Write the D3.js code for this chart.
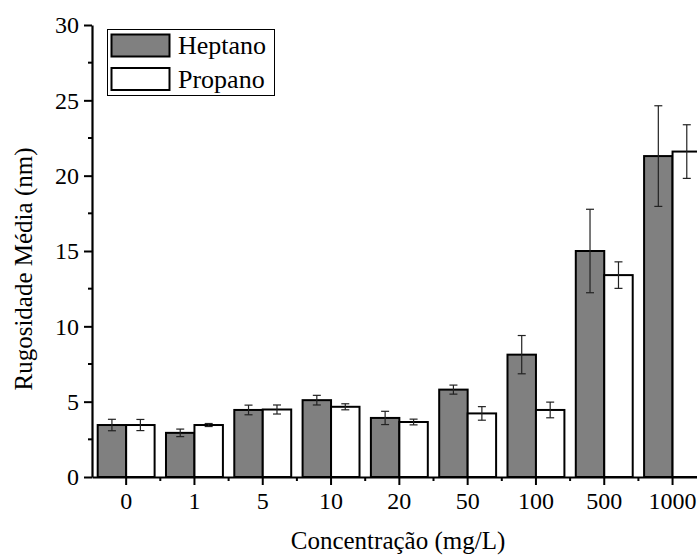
<!DOCTYPE html>
<html>
<head>
<meta charset="utf-8">
<script src="https://cdn.jsdelivr.net/npm/d3@7"></script>
<style>
  html, body { margin: 0; padding: 0; background: #fff; overflow: hidden; }
  svg { display: block; font-family: "Liberation Serif", "Times New Roman", serif; }
</style>
</head>
<body>
<svg id="chart" width="697" height="556"></svg>
<script>
// data
const categories = ["0", "1", "5", "10", "20", "50", "100", "500", "1000"];
const heptano = [3.45, 2.93, 4.45, 5.1, 3.92, 5.8, 8.12, 15.0, 21.3];
const heptanoErr = [0.38, 0.25, 0.32, 0.32, 0.44, 0.3, 1.27, 2.77, 3.34];
const propano = [3.45, 3.45, 4.48, 4.66, 3.65, 4.22, 4.45, 13.4, 21.6];
const propanoErr = [0.37, 0.1, 0.3, 0.2, 0.19, 0.45, 0.52, 0.88, 1.78];
const seriesNames = ["Heptano", "Propano"];
const yMajorTicks = [0, 5, 10, 15, 20, 25, 30];
const yMinorTicks = [2.5, 7.5, 12.5, 17.5, 22.5, 27.5];

const colors = { Heptano: "#808080", Propano: "#ffffff" };

const svg = d3.select("#chart");
const margin = { left: 92, top: 25, bottom: 79 };
const height = 556;
const step = 68.3;

const x = d3.scaleBand()
    .domain(categories)
    .range([margin.left, margin.left + step * categories.length])
    .padding(0);

const xInner = d3.scaleBand()
    .domain(seriesNames)
    .range([0, x.bandwidth()])
    .paddingOuter(0.2)
    .paddingInner(0);

const y = d3.scaleLinear()
    .domain([0, 30])
    .range([height - margin.bottom, margin.top]);

const rows = categories.map((c, i) => ({
    cat: c,
    vals: [
        { key: "Heptano", v: heptano[i], e: heptanoErr[i] },
        { key: "Propano", v: propano[i], e: propanoErr[i] }
    ]
}));

// bars
const groups = svg.append("g").attr("class", "bars")
    .selectAll("g")
    .data(rows)
    .enter()
    .append("g")
    .attr("transform", d => `translate(${x(d.cat)},0)`);

groups.selectAll("rect")
    .data(d => d.vals)
    .enter()
    .append("rect")
    .attr("x", d => xInner(d.key))
    .attr("y", d => y(d.v))
    .attr("width", xInner.bandwidth())
    .attr("height", d => y(0) - y(d.v))
    .attr("fill", d => colors[d.key])
    .attr("stroke", "#000")
    .attr("stroke-width", 2);

// error bars
const err = groups.selectAll("g.err")
    .data(d => d.vals)
    .enter()
    .append("g")
    .attr("class", "err")
    .attr("stroke", "#222")
    .attr("stroke-width", 1.2);

err.append("line")
    .attr("x1", d => xInner(d.key) + xInner.bandwidth() / 2)
    .attr("x2", d => xInner(d.key) + xInner.bandwidth() / 2)
    .attr("y1", d => y(d.v + d.e))
    .attr("y2", d => y(d.v - d.e));

[1, -1].forEach(s => {
    err.append("line")
        .attr("x1", d => xInner(d.key) + xInner.bandwidth() / 2 - 4)
        .attr("x2", d => xInner(d.key) + xInner.bandwidth() / 2 + 4)
        .attr("y1", d => y(d.v + s * d.e))
        .attr("y2", d => y(d.v + s * d.e));
});

// x axis with major ticks on categories
const xAxisGroup = svg.append("g")
    .attr("transform", `translate(0,${y(0)})`)
    .call(d3.axisBottom(x).tickSize(8).tickPadding(7).tickSizeOuter(0));

// minor ticks on band edges
xAxisGroup.selectAll(".minor")
    .data(categories.slice(1))
    .enter()
    .append("line")
    .attr("class", "minor")
    .attr("x1", d => x(d))
    .attr("x2", d => x(d))
    .attr("y1", 0)
    .attr("y2", 4)
    .attr("stroke", "#000")
    .attr("stroke-width", 2);

// y axis
const yAxisGroup = svg.append("g")
    .attr("transform", `translate(${margin.left},0)`)
    .call(d3.axisLeft(y).tickValues(yMajorTicks).tickSize(8).tickPadding(5).tickSizeOuter(0));

yAxisGroup.selectAll(".minor")
    .data(yMinorTicks)
    .enter()
    .append("line")
    .attr("class", "minor")
    .attr("x1", -4)
    .attr("x2", 0)
    .attr("y1", d => y(d))
    .attr("y2", d => y(d))
    .attr("stroke", "#000")
    .attr("stroke-width", 2);

[xAxisGroup, yAxisGroup].forEach(g => {
    g.selectAll(".domain").attr("stroke", "#000").attr("stroke-width", 2.2);
    g.selectAll(".tick line").attr("stroke", "#000").attr("stroke-width", 2);
    g.selectAll("text")
        .attr("fill", "#000")
        .style("font-family", "'Liberation Serif', 'Times New Roman', serif")
        .style("font-size", "24px");
});

// axis titles
svg.append("text")
    .attr("x", 398)
    .attr("y", 549)
    .attr("text-anchor", "middle")
    .style("font-size", "25px")
    .text("Concentração (mg/L)");

svg.append("text")
    .attr("transform", "translate(32,269) rotate(-90)")
    .attr("text-anchor", "middle")
    .style("font-size", "25px")
    .text("Rugosidade Média (nm)");

// legend
const legend = svg.append("g").attr("class", "legend");
legend.append("rect")
    .attr("x", 107.5).attr("y", 29.5)
    .attr("width", 167).attr("height", 66)
    .attr("fill", "#fff")
    .attr("stroke", "#000")
    .attr("stroke-width", 1);

const items = legend.selectAll("g.item")
    .data(seriesNames)
    .enter()
    .append("g")
    .attr("class", "item")
    .attr("transform", (d, i) => `translate(0,${i * 33.5})`);

items.append("rect")
    .attr("x", 111.5).attr("y", 34.5)
    .attr("width", 58).attr("height", 22)
    .attr("fill", d => colors[d])
    .attr("stroke", "#000")
    .attr("stroke-width", 2);

items.append("text")
    .attr("x", 178)
    .attr("y", 54)
    .style("font-size", "26px")
    .text(d => d);
</script>
</body>
</html>
